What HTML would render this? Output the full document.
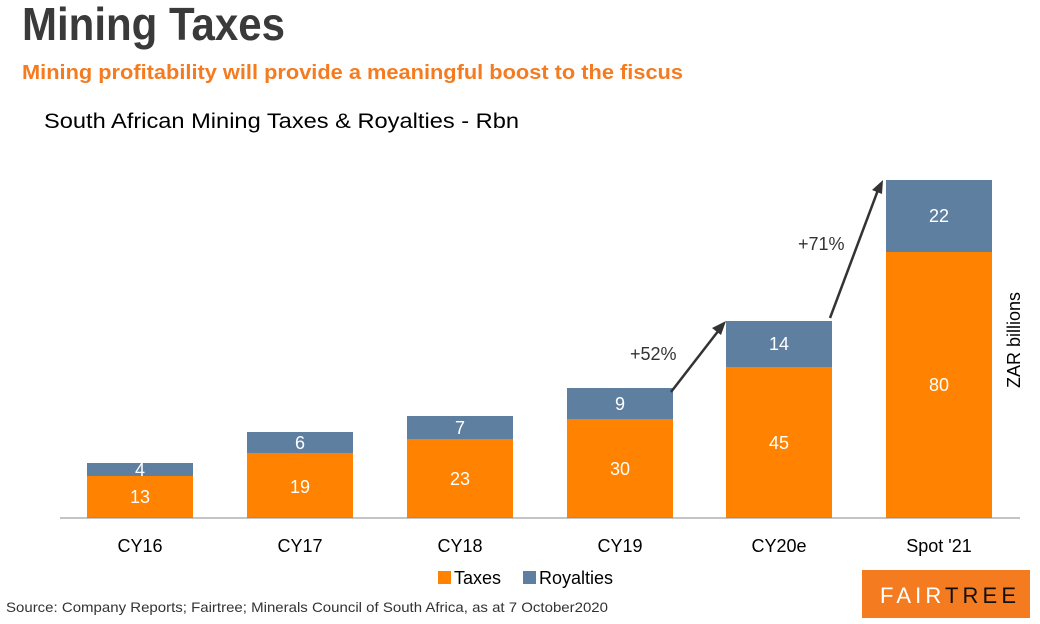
<!DOCTYPE html>
<html><head><style>body{margin:0;background:#fff}svg{display:block}</style></head><body>
<svg width="1040" height="624" viewBox="0 0 1040 624" xmlns="http://www.w3.org/2000/svg" font-family="Liberation Sans, sans-serif">
<text x="22" y="40" font-size="46" font-weight="bold" fill="#3a3a3a" textLength="263" lengthAdjust="spacingAndGlyphs">Mining Taxes</text>
<text x="22" y="79" font-size="20" font-weight="bold" fill="#f47b20" textLength="661" lengthAdjust="spacingAndGlyphs">Mining profitability will provide a meaningful boost to the fiscus</text>
<text x="44" y="128" font-size="21" fill="#000" textLength="475" lengthAdjust="spacingAndGlyphs">South African Mining Taxes &amp; Royalties - Rbn</text>
<g fill="#ff8200">
<rect x="87" y="476" width="106" height="42"/>
<rect x="247" y="453" width="106" height="65"/>
<rect x="407" y="439" width="106" height="79"/>
<rect x="567" y="419" width="106" height="99"/>
<rect x="726" y="367" width="106" height="151"/>
<rect x="886" y="252" width="106" height="266"/>
</g>
<g fill="#5f7fa0">
<rect x="87" y="463" width="106" height="13"/>
<rect x="247" y="432" width="106" height="21"/>
<rect x="407" y="416" width="106" height="23"/>
<rect x="567" y="388" width="106" height="31"/>
<rect x="726" y="321" width="106" height="46"/>
<rect x="886" y="180" width="106" height="72"/>
</g>
<line x1="60" y1="518" x2="1020" y2="518" stroke="#888" stroke-width="1"/>
<g font-size="18" fill="#fff" text-anchor="middle">
<text x="140" y="503">13</text><text x="140" y="476">4</text>
<text x="300" y="493">19</text><text x="300" y="449">6</text>
<text x="460" y="485">23</text><text x="460" y="434">7</text>
<text x="620" y="475">30</text><text x="620" y="410">9</text>
<text x="779" y="449">45</text><text x="779" y="350">14</text>
<text x="939" y="391">80</text><text x="939" y="222">22</text>
</g>
<g font-size="18" fill="#000" text-anchor="middle">
<text x="140" y="552">CY16</text><text x="300" y="552">CY17</text><text x="460" y="552">CY18</text>
<text x="620" y="552">CY19</text><text x="779" y="552">CY20e</text><text x="939" y="552">Spot '21</text>
</g>
<g stroke="#333" stroke-width="2.5" fill="#333">
<line x1="671" y1="392" x2="719" y2="330"/>
<polygon points="726,321 712,328 721,335" stroke="none"/>
<line x1="830" y1="318" x2="878" y2="190"/>
<polygon points="883,180 872,190 882,194" stroke="none"/>
</g>
<text x="630" y="360" font-size="18" fill="#333">+52%</text>
<text x="798" y="250" font-size="18" fill="#333">+71%</text>
<text transform="translate(1020,340) rotate(-90)" font-size="18" fill="#000" text-anchor="middle">ZAR billions</text>
<rect x="438" y="571" width="13" height="13" fill="#ff8200"/>
<text x="454" y="584" font-size="18">Taxes</text>
<rect x="523" y="571" width="13" height="13" fill="#5f7fa0"/>
<text x="539" y="584" font-size="18">Royalties</text>
<text x="6" y="612" font-size="14" fill="#333" textLength="602" lengthAdjust="spacingAndGlyphs">Source: Company Reports; Fairtree; Minerals Council of South Africa, as at 7 October2020</text>
<rect x="862" y="570" width="168" height="48" fill="#f47b20"/>
<text x="880" y="603" font-size="22" fill="#fff" textLength="136" lengthAdjust="spacing">FAIR<tspan fill="#111">TREE</tspan></text>
</svg>
</body></html>
